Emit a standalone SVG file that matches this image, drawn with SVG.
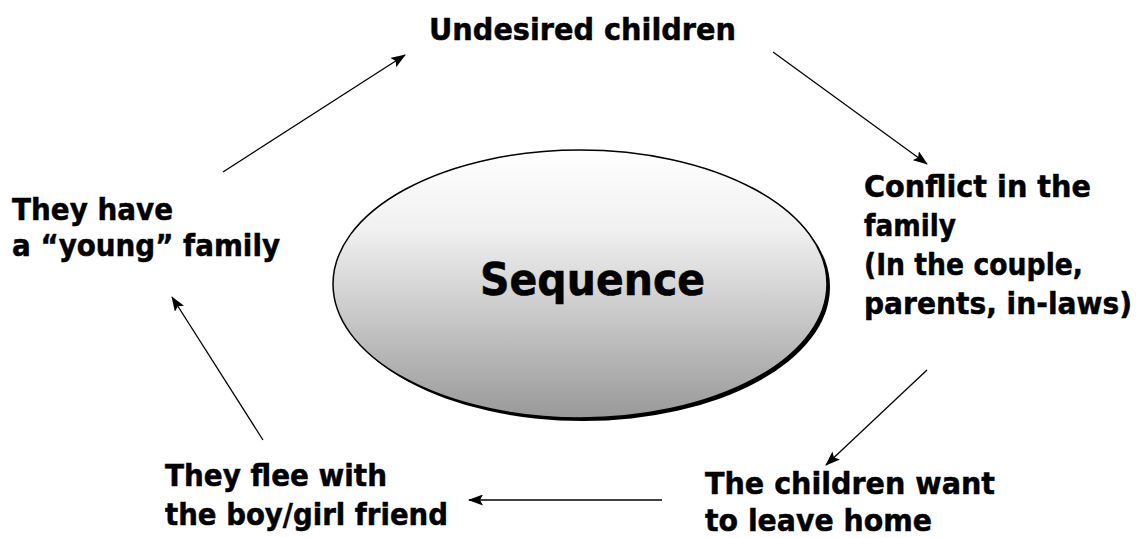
<svg xmlns="http://www.w3.org/2000/svg" width="1148" height="538" viewBox="0 0 1148 538">
  <style>
    .lbl { font-family: "DejaVu Sans", Verdana, sans-serif; font-weight: bold; font-size: 30px; fill: #000; stroke: #000; stroke-width: 0.5; }
    .title { font-family: "DejaVu Sans", Verdana, sans-serif; font-weight: bold; font-size: 45px; fill: #000; stroke: #000; stroke-width: 0.6; }
    .conn { stroke: #000; stroke-width: 1.3; fill: none; marker-end: url(#arrow); }
  </style>
  <defs>
    <linearGradient id="grad" x1="0" y1="0" x2="0" y2="1">
      <stop offset="0" stop-color="#ffffff"/>
      <stop offset="0.3" stop-color="#f0f0f0"/>
      <stop offset="1" stop-color="#999999"/>
    </linearGradient>
    <marker id="arrow" markerUnits="userSpaceOnUse" markerWidth="15" markerHeight="11" refX="14" refY="5.5" orient="auto">
      <path d="M0,0 L15,5.5 L0,11 L3,5.5 Z" fill="#000"/>
    </marker>
  </defs>
  <rect width="1148" height="538" fill="#fff"/>

  <g id="center">
    <ellipse cx="583" cy="287" rx="247" ry="134" fill="#000"/>
    <ellipse cx="580" cy="284" rx="247" ry="134" fill="url(#grad)" stroke="#000" stroke-width="1.5"/>
    <text class="title" x="480" y="295" textLength="225" lengthAdjust="spacingAndGlyphs">Sequence</text>
  </g>

  <g id="n-undesired">
    <text class="lbl" x="429" y="40" textLength="307" lengthAdjust="spacingAndGlyphs">Undesired children</text>
  </g>

  <g id="n-conflict">
    <text class="lbl" x="864" y="197" textLength="227" lengthAdjust="spacingAndGlyphs">Conflict in the</text>
    <text class="lbl" x="864" y="236" textLength="92" lengthAdjust="spacingAndGlyphs">family</text>
    <text class="lbl" x="864" y="275" textLength="219" lengthAdjust="spacingAndGlyphs">(In the couple,</text>
    <text class="lbl" x="864" y="314" textLength="268" lengthAdjust="spacingAndGlyphs">parents, in-laws)</text>
  </g>

  <g id="n-leave">
    <text class="lbl" x="705" y="494" textLength="290" lengthAdjust="spacingAndGlyphs">The children want</text>
    <text class="lbl" x="705" y="531" textLength="227" lengthAdjust="spacingAndGlyphs">to leave home</text>
  </g>

  <g id="n-flee">
    <text class="lbl" x="165" y="486" textLength="222" lengthAdjust="spacingAndGlyphs">They flee with</text>
    <text class="lbl" x="165" y="525" textLength="283" lengthAdjust="spacingAndGlyphs">the boy/girl friend</text>
  </g>

  <g id="n-young">
    <text class="lbl" x="12" y="220" textLength="161" lengthAdjust="spacingAndGlyphs">They have</text>
    <text class="lbl" x="12" y="256" textLength="268" lengthAdjust="spacingAndGlyphs">a “young” family</text>
  </g>

  <g id="connectors">
    <line class="conn" x1="223" y1="172" x2="405" y2="55"/>
    <line class="conn" x1="773" y1="52" x2="927" y2="164"/>
    <line class="conn" x1="927" y1="370" x2="826" y2="465"/>
    <line class="conn" x1="662" y1="500" x2="469" y2="500"/>
    <line class="conn" x1="263" y1="440" x2="172" y2="297"/>
  </g>
</svg>
